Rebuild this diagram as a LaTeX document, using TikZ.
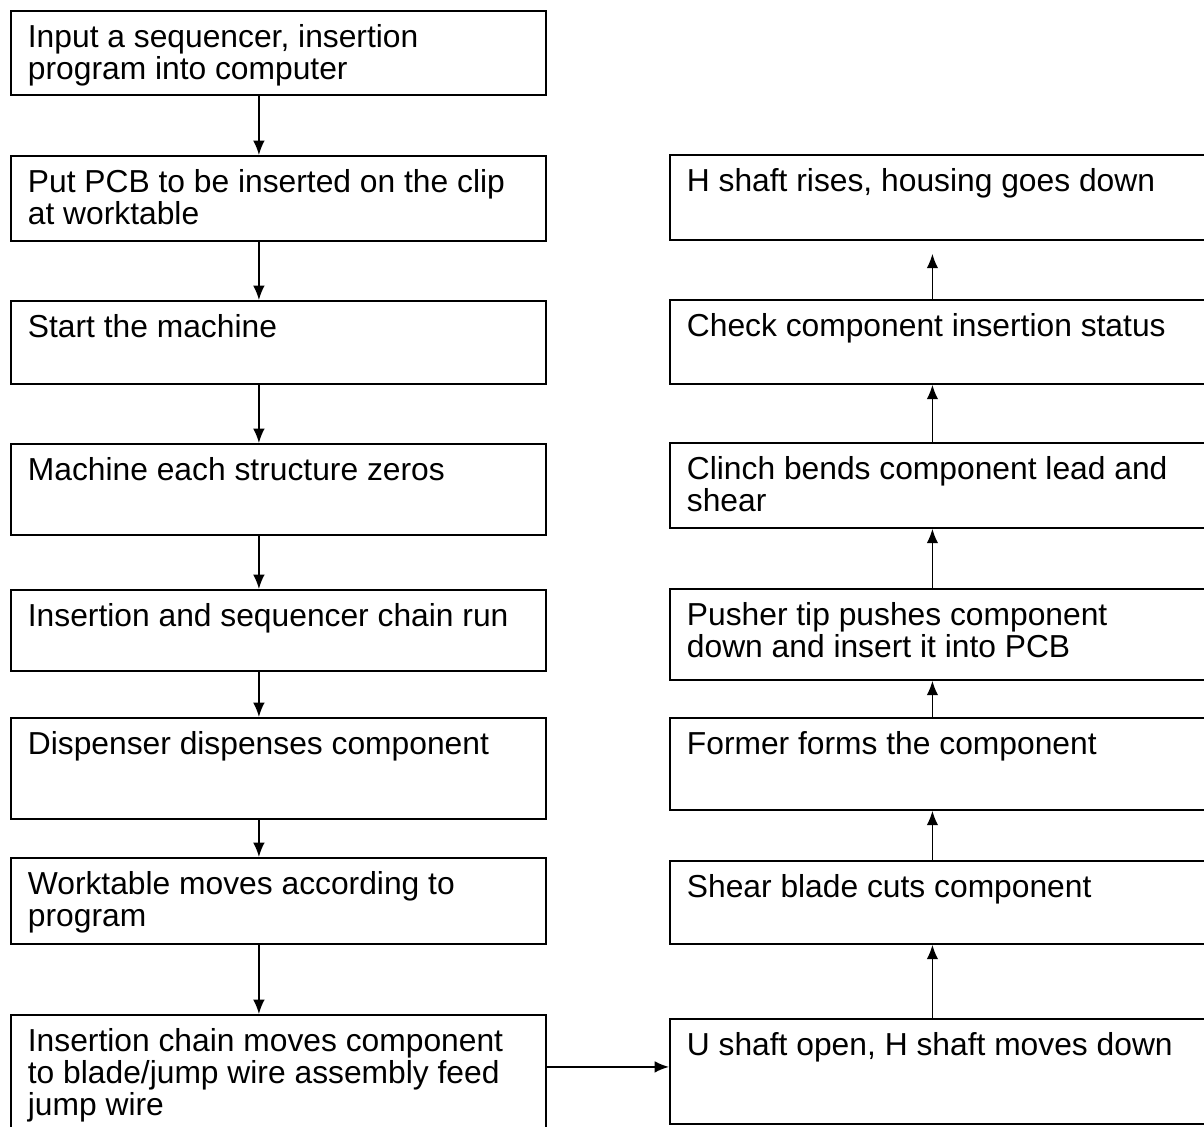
\documentclass[tikz,border=0pt]{standalone}
\usepackage{fontspec}
\setmainfont{Liberation Sans}
\usetikzlibrary{arrows.meta}
\newlength{\pxu}
\setlength{\pxu}{0.025cm}
\newcommand{\flowtext}[2]{\parbox[t][#1\pxu][t]{501\pxu}{#2}}
\tikzset{
 stepbox/.style={draw, line width=1.3pt, anchor=north west, inner xsep=17\pxu, inner ysep=14\pxu,
  font=\fontsize{22.6}{22.5}\selectfont},
 flow/.style={->, line width=1.1pt}
}
\begin{document}
\begin{tikzpicture}[x=0.025cm, y=-0.025cm, >={Latex[length=3.6mm,width=2.9mm]}]
 \useasboundingbox (0,0) rectangle (1204,1126); %画像の範囲
 % 左列
 \node[stepbox] (L1) at (10,10) {\flowtext{56}{Input a sequencer, insertion\\program into computer}};
 \node[stepbox] (L2) at (10,155) {\flowtext{57}{Put PCB to be inserted on the clip\\at worktable}};
 \node[stepbox] (L3) at (10,300) {\flowtext{55}{Start the machine}};
 \node[stepbox] (L4) at (10,443) {\flowtext{63}{Machine each structure zeros}};
 \node[stepbox] (L5) at (10,589) {\flowtext{53}{Insertion and sequencer chain run}};
 \node[stepbox] (L6) at (10,717) {\flowtext{73}{Dispenser dispenses component}};
 \node[stepbox] (L7) at (10,857) {\flowtext{58}{Worktable moves according to\\program}};
 \node[stepbox] (L8) at (10,1014) {\flowtext{98}{Insertion chain moves component\\to blade/jump wire assembly feed\\jump wire}};
 % 右列
 \node[stepbox] (R1) at (669,154) {\flowtext{57}{H shaft rises, housing goes down}};
 \node[stepbox] (R2) at (669,299) {\flowtext{56}{Check component insertion status}};
 \node[stepbox] (R3) at (669,442) {\flowtext{57}{Clinch bends component lead and\\shear}};
 \node[stepbox] (R4) at (669,588) {\flowtext{63}{Pusher tip pushes component\\down and insert it into PCB}};
 \node[stepbox] (R5) at (669,717) {\flowtext{64}{Former forms the component}};
 \node[stepbox] (R6) at (669,860) {\flowtext{55}{Shear blade cuts component}};
 \node[stepbox] (R7) at (669,1018) {\flowtext{77}{U shaft open, H shaft moves down}};
 % 矢印
 \foreach \a/\b in {L1/L2, L2/L3, L3/L4, L4/L5, L5/L6, L6/L7, L7/L8}
  \draw[flow] ([xshift=-19.5\pxu]\a.south) -- ([xshift=-19.5\pxu]\b.north);
 \foreach \a/\b in {R7/R6, R6/R5, R5/R4, R4/R3, R3/R2}
  \draw[flow] ([xshift=-5\pxu]\a.north) -- ([xshift=-5\pxu]\b.south);
 \draw[flow, shorten >=13\pxu] ([xshift=-5\pxu]R2.north) -- ([xshift=-5\pxu]R1.south);
 \coordinate (hin) at ([yshift=4.5\pxu]R7.west); %横矢印の先
 \draw[flow] (L8.east |- hin) -- (hin);
\end{tikzpicture}
\end{document}
